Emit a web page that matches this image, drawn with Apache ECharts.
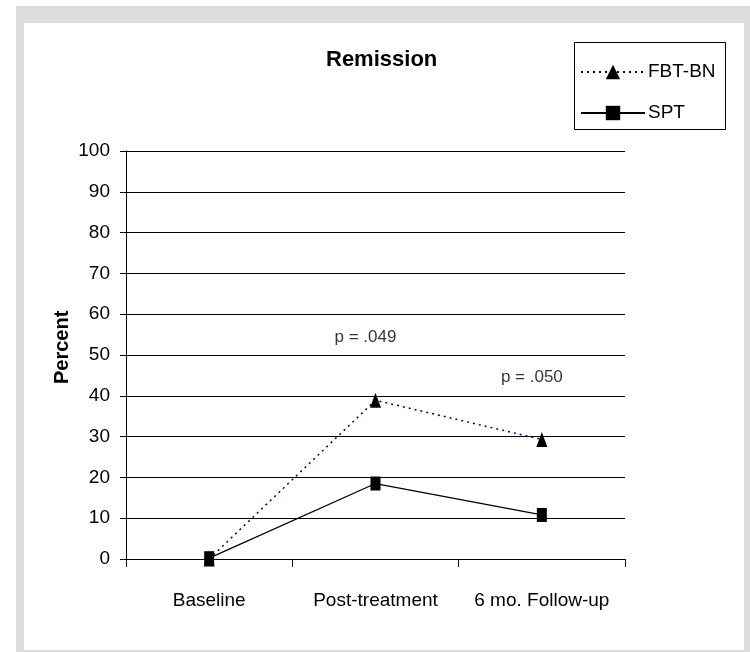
<!DOCTYPE html>
<html>
<head>
<meta charset="utf-8">
<script src="https://cdn.jsdelivr.net/npm/echarts@6/dist/echarts.min.js"></script>
<style>
  html, body { margin: 0; padding: 0; background: #fff; }
  #chart { width: 750px; height: 652px; }
</style>
</head>
<body>
<div id="chart"></div>
<script>
// Remission rates by assessment point
const categories = ['Baseline', 'Post-treatment', '6 mo. Follow-up'];
const fbtValues = [0, 38.9, 29.3];
const sptValues = [0.2, 18.5, 10.8];
const yTicks = [0, 10, 20, 30, 40, 50, 60, 70, 80, 90, 100];

// Significance notes placed above the groups they refer to
const pTexts = ['p = .049', 'p = .050'];
const pCategories = ['Post-treatment', '6 mo. Follow-up'];
const pHeights = [54.4, 44.6];

const FONT = "'Liberation Sans', Arial, sans-serif";

const chart = echarts.init(document.getElementById('chart'), null, { renderer: 'canvas' });

chart.setOption({
  animation: false,
  backgroundColor: '#ffffff',
  textStyle: { fontFamily: FONT, color: '#000' },
  graphic: [
    { type: 'rect', z: -10, shape: { x: 16, y: 6, width: 740, height: 650 }, style: { fill: '#dcdcdc' }, silent: true },
    { type: 'rect', z: -9, shape: { x: 24, y: 23, width: 720, height: 627 }, style: { fill: '#ffffff' }, silent: true },
    { type: 'rect', z: 5, shape: { x: 574.5, y: 42.5, width: 151, height: 87 }, style: { fill: '#ffffff', stroke: '#000', lineWidth: 1 }, silent: true },
    { type: 'text', z: 10, left: 326, top: 49, style: { text: 'Remission', font: "bold 22px " + FONT, fill: '#000' } },
    { type: 'text', z: 10, rotation: Math.PI / 2, x: 52, y: 384, style: { text: 'Percent', font: "bold 20px " + FONT, fill: '#000' } }
  ],
  legend: {
    data: ['FBT-BN', 'SPT'],
    orient: 'vertical',
    left: 580,
    top: 62,
    z: 10,
    padding: 0,
    itemWidth: 64,
    itemHeight: 18,
    itemGap: 21,
    textStyle: { fontSize: 19, fontFamily: FONT, color: '#000', padding: [0, 0, 0, -2], lineHeight: 20 }
  },
  grid: { left: 126, right: 125, top: 151, bottom: 93 },
  xAxis: {
    type: 'category',
    data: categories,
    boundaryGap: true,
    axisLine: { show: true, lineStyle: { color: '#000', width: 1 } },
    axisTick: { show: true, alignWithLabel: false, length: 8, lineStyle: { color: '#000' } },
    axisLabel: { fontSize: 19, color: '#000', fontFamily: FONT, margin: 32, interval: 0 },
    splitLine: { show: false }
  },
  yAxis: {
    type: 'value',
    min: 0,
    max: 100,
    interval: 10,
    axisLine: { show: true, lineStyle: { color: '#000', width: 1 } },
    axisTick: { show: true, length: 6, lineStyle: { color: '#000' } },
    axisLabel: {
      fontSize: 19, color: '#000', fontFamily: FONT, margin: 16,
      formatter: v => (yTicks.indexOf(v) >= 0 ? String(v) : '')
    },
    splitLine: { show: true, lineStyle: { color: '#000', width: 1 } }
  },
  series: [
    {
      name: 'FBT-BN',
      type: 'line',
      data: fbtValues,
      symbol: 'triangle',
      symbolSize: [11, 15],
      itemStyle: { color: '#000' },
      lineStyle: { color: '#000080', width: 1.5, type: [2, 4] },
      z: 3
    },
    {
      name: 'SPT',
      type: 'line',
      data: sptValues,
      symbol: 'rect',
      symbolSize: [10, 14],
      itemStyle: { color: '#000' },
      lineStyle: { color: '#000', width: 1.3, type: 'solid' },
      z: 4
    },
    {
      name: 'notes',
      type: 'scatter',
      symbolSize: 0,
      silent: true,
      data: pTexts.map((t, i) => ({ name: t, value: [pCategories[i], pHeights[i]] })),
      label: {
        show: true,
        position: 'inside',
        offset: [-10, 0],
        formatter: p => p.name,
        fontSize: 17,
        fontFamily: FONT,
        color: '#000'
      }
    }
  ]
});
</script>
</body>
</html>
